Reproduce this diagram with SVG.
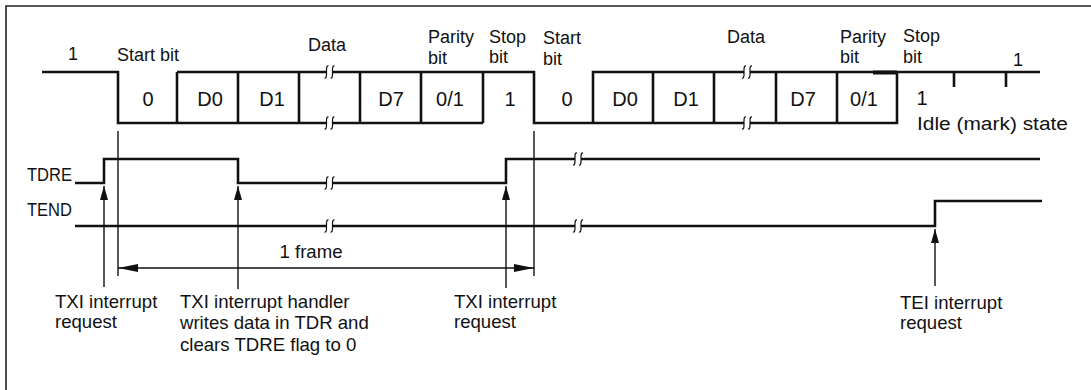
<svg xmlns="http://www.w3.org/2000/svg" xmlns:xlink="http://www.w3.org/1999/xlink" width="1091" height="390" viewBox="0 0 1091 390">
<style>
  text { font-family: "Liberation Sans", Arial, sans-serif; font-size: 18px; fill: #111; }
  .sig { fill: none; stroke: #111; stroke-width: 2.6; stroke-linejoin: miter; stroke-linecap: butt; }
  .thin { fill: none; stroke: #111; stroke-width: 1.4; }
  .brk { fill: none; stroke: #111; stroke-width: 1.2; }
  .mid { text-anchor: middle; }
  .bit { font-size: 20px; text-anchor: middle; }
  .ann { font-size: 18.6px; }
  .lbl { font-size: 18px; }
</style>
<defs>
  <g id="brkmark">
    <path class="brk" d="M -1,-6 Q -3,-6.5 -3,-2.5 L -3,2.5 Q -3,6.5 -5,6"/>
    <path class="brk" d="M 5,-6 Q 3,-6.5 3,-2.5 L 3,2.5 Q 3,6.5 1,6"/>
  </g>
  <marker id="ah" viewBox="0 0 14 8" refX="14" refY="4" markerWidth="14" markerHeight="8" markerUnits="userSpaceOnUse" orient="auto">
    <path d="M0,0 L14,4 L0,8 Z" fill="#111"/>
  </marker>
  <marker id="ahf" viewBox="0 0 20 8" refX="20" refY="4" markerWidth="20" markerHeight="8" markerUnits="userSpaceOnUse" orient="auto-start-reverse">
    <path d="M0,0 L20,4 L0,8 Z" fill="#111"/>
  </marker>
</defs>

<g id="border">
  <path d="M6,390 V6 H1091" fill="none" stroke="#222" stroke-width="1.6"/>
</g>

<g id="serial-signal">
  <!-- first frame -->
  <path class="sig" d="M42,72 H118 V123 H326.5"/>
  <path class="sig" d="M332.5,123 H483"/>
  <path class="sig" d="M177,72 H326.5"/>
  <path class="sig" d="M332.5,72 H534 V123 H744"/>
  <path class="sig" d="M177,72 V123 M238,72 V123 M299,72 V123 M360,72 V123 M421,72 V123 M483,72 V123"/>
  <!-- second frame -->
  <path class="sig" d="M750,123 H897 V72"/>
  <path class="sig" d="M593,123 V72 H744"/>
  <path class="sig" d="M750,72 H1040"/>
  <path d="M873,72.5 H897" stroke="#111" stroke-width="4"/>
  <path class="sig" d="M653,72 V123 M714,72 V123 M776,72 V123 M837,72 V123"/>
  <path class="sig" d="M954,72 V87 M1006,72 V87"/>
  <use xlink:href="#brkmark" x="329.5" y="72"/>
  <use xlink:href="#brkmark" x="329.5" y="123"/>
  <use xlink:href="#brkmark" x="747" y="72"/>
  <use xlink:href="#brkmark" x="747" y="123"/>
</g>

<g id="tdre-signal">
  <path class="sig" d="M75,183 H104 V159 H238 V183 H326.5"/>
  <path class="sig" d="M332.5,183 H506 V159 H575"/>
  <path class="sig" d="M581,159 H1040"/>
  <use xlink:href="#brkmark" x="329.5" y="183"/>
  <use xlink:href="#brkmark" x="578" y="159"/>
</g>

<g id="tend-signal">
  <path class="sig" d="M75,226 H326.5"/>
  <path class="sig" d="M332.5,226 H575"/>
  <path class="sig" d="M581,226 H935 V201 H1042"/>
  <use xlink:href="#brkmark" x="329.5" y="226"/>
  <use xlink:href="#brkmark" x="578" y="226"/>
</g>

<g id="connectors">
  <path class="thin" d="M118,131 V276"/>
  <path class="thin" d="M534,131 V276"/>
  <path class="thin" d="M118,268 H534" marker-start="url(#ahf)" marker-end="url(#ahf)"/>
  <path class="thin" d="M104,287 V186" marker-end="url(#ah)"/>
  <path class="thin" d="M238,289 V186" marker-end="url(#ah)"/>
  <path class="thin" d="M506,288 V186" marker-end="url(#ah)"/>
  <path class="thin" d="M935,286 V229" marker-end="url(#ah)"/>
</g>

<g id="labels-top">
  <text x="73" y="60" class="mid" font-size="19">1</text>
  <text x="117" y="61">Start bit</text>
  <text x="308" y="51">Data</text>
  <text x="428" y="43" font-size="18.8">Parity</text>
  <text x="428" y="64">bit</text>
  <text x="489" y="43">Stop</text>
  <text x="489" y="63">bit</text>
  <text x="543" y="44">Start</text>
  <text x="543" y="65">bit</text>
  <text x="727" y="43">Data</text>
  <text x="840" y="43" font-size="18.8">Parity</text>
  <text x="840" y="63">bit</text>
  <text x="903" y="42">Stop</text>
  <text x="903" y="63">bit</text>
  <text x="1018" y="66" class="mid" font-size="19">1</text>
</g>

<g id="bit-labels">
  <text x="148" y="106" class="bit">0</text>
  <text x="210" y="106" class="bit">D0</text>
  <text x="272" y="106" class="bit">D1</text>
  <text x="391" y="106" class="bit">D7</text>
  <text x="450" y="106" class="bit">0/1</text>
  <text x="510" y="106" class="bit">1</text>
  <text x="567" y="106" class="bit">0</text>
  <text x="625" y="106" class="bit">D0</text>
  <text x="686" y="106" class="bit">D1</text>
  <text x="803" y="106" class="bit">D7</text>
  <text x="864" y="106" class="bit">0/1</text>
  <text x="922" y="105" class="bit">1</text>
  <text x="917" y="130" textLength="151" lengthAdjust="spacingAndGlyphs" font-size="19.5">Idle (mark) state</text>
</g>

<g id="signal-names">
  <text x="27" y="181" class="lbl" textLength="45" lengthAdjust="spacingAndGlyphs">TDRE</text>
  <text x="27" y="216" class="lbl" textLength="45" lengthAdjust="spacingAndGlyphs">TEND</text>
</g>

<g id="annotations">
  <text x="311" y="258" class="mid ann">1 frame</text>
  <text x="55" y="308" class="ann">TXI interrupt</text>
  <text x="55" y="328" class="ann">request</text>
  <text x="180" y="308" class="ann">TXI interrupt handler</text>
  <text x="180" y="329" class="ann">writes data in TDR and</text>
  <text x="180" y="351" class="ann">clears TDRE flag to 0</text>
  <text x="454" y="308" class="ann">TXI interrupt</text>
  <text x="454" y="328" class="ann">request</text>
  <text x="900" y="309" class="ann">TEI interrupt</text>
  <text x="900" y="329" class="ann">request</text>
</g>
</svg>
